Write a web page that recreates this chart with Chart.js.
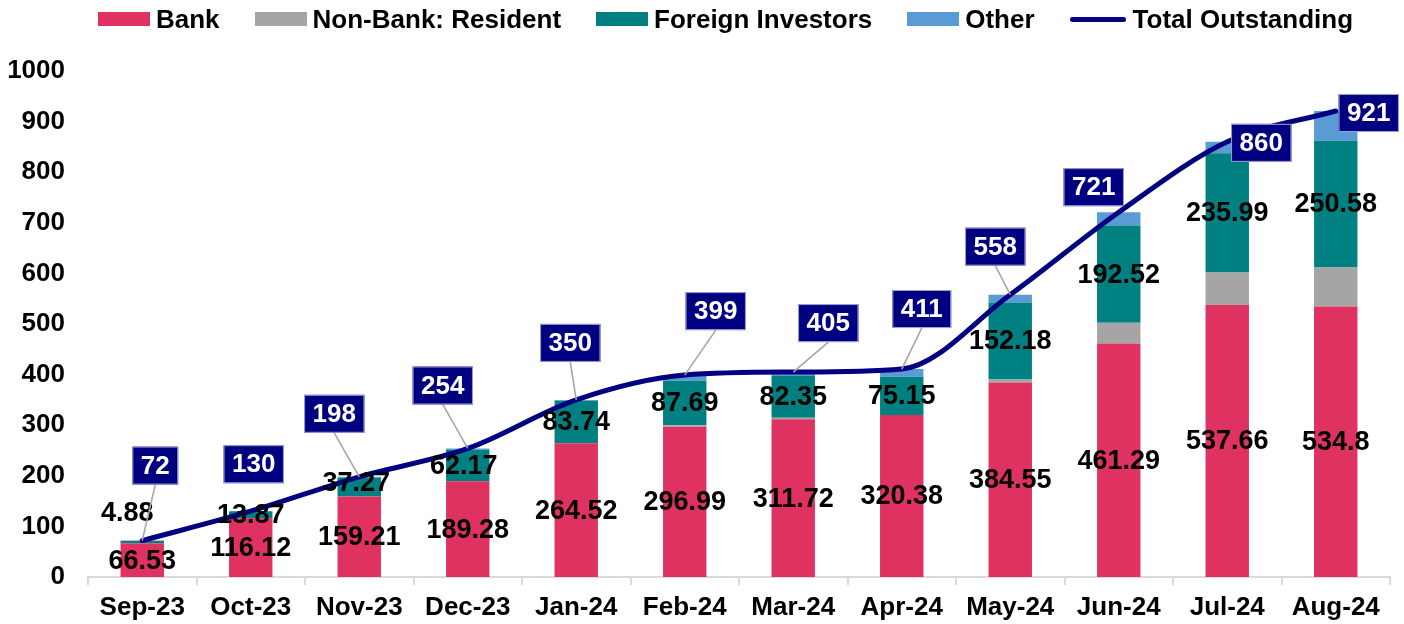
<!DOCTYPE html>
<html>
<head>
<meta charset="utf-8">
<script src="https://cdn.jsdelivr.net/npm/chart.js@4.4.1/dist/chart.umd.min.js"></script>
<style>
  html, body { margin: 0; padding: 0; background: #fff; }
  #wrap { position: relative; width: 1404px; height: 624px; }
  #legend { position: absolute; top: 5px; left: 98px; display: flex; align-items: center;
            font: bold 26px "Liberation Sans", Arial, sans-serif; color: #000; line-height: 28px; }
  #legend .item { display: flex; align-items: center; margin-right: 35px; white-space: nowrap; }
  #legend .sw { display: inline-block; width: 52px; height: 14px; margin-right: 6px; }
  #legend .ln { display: inline-block; width: 56px; height: 5px; border-radius: 3px; margin-right: 7px; }
</style>
</head>
<body>
<div id="wrap">
  <canvas id="c" width="1404" height="624"></canvas>
  <div id="legend"></div>
</div>
<script>
// ---- Data ----
const categories = ['Sep-23','Oct-23','Nov-23','Dec-23','Jan-24','Feb-24','Mar-24','Apr-24','May-24','Jun-24','Jul-24','Aug-24'];
const bank = [66.53, 116.12, 159.21, 189.28, 264.52, 296.99, 311.72, 320.38, 384.55, 461.29, 537.66, 534.8];
const nonBankResident = [0, 0, 0, 0, 0, 3, 3, 0, 6, 41, 64, 77];
const foreignInvestors = [4.88, 13.87, 37.27, 62.17, 83.74, 87.69, 82.35, 75.15, 152.18, 192.52, 235.99, 250.58];
const other = [0.59, 0.01, 1.52, 2.55, 1.74, 11.32, 7.93, 15.47, 15.27, 26.19, 22.35, 58.62];
const totalOutstanding = [72, 130, 198, 254, 350, 399, 405, 411, 558, 721, 860, 921];
const yTickMin = 0, yTickMax = 1000, yTickStep = 100;

// ---- Label placement (pixel offsets, styling only) ----
const calloutOffsets = [[13,-75],[3,-47],[-25,-63],[-25,-63],[-6,-57],[31,-64],[35,-49],[20,-60],[-15,-48],[-25,-25],[34,1],[33,2]];
const foreignLabelShift = [[-15,-30],[0,0],[-3,-4],[-4,0],[0,0],[0,0],[0,0],[0,0],[0,0],[0,0],[0,0],[0,0]];

const COLORS = { bank:'#DF3261', nonbank:'#A5A5A5', foreign:'#008080', other:'#5B9BD5', total:'#000080' };
const FONT = '"Liberation Sans", Arial, sans-serif';

const labelPlugin = {
  id: 'customLabels',
  afterDatasetsDraw(chart) {
    const ctx = chart.ctx;
    ctx.save();
    ctx.font = 'bold 27px ' + FONT;
    ctx.fillStyle = '#000';
    ctx.textAlign = 'center';
    ctx.textBaseline = 'middle';
    [1, 3].forEach(di => {
      const meta = chart.getDatasetMeta(di);
      const ds = chart.data.datasets[di];
      meta.data.forEach((el, i) => {
        const sh = di === 3 ? foreignLabelShift[i] : [0, 0];
        ctx.fillText(String(ds.data[i]), el.x + sh[0], (el.y + el.base) / 2 + sh[1] + 1);
      });
    });
    // callouts for totals
    const lm = chart.getDatasetMeta(0);
    const lds = chart.data.datasets[0];
    ctx.font = 'bold 26px ' + FONT;
    lm.data.forEach((pt, i) => {
      const [dx, dy] = calloutOffsets[i];
      const cx = pt.x + dx, cy = pt.y + dy;
      const txt = String(lds.data[i]);
      const w = ctx.measureText(txt).width + 17, h = 38;
      const bx = cx - w / 2, by = cy - h / 2;
      const dist = Math.hypot(pt.x - cx, pt.y - (by + h));
      if (dist > 30 && dy < -30) {
        ctx.beginPath();
        ctx.strokeStyle = '#A6A6A6';
        ctx.lineWidth = 1.6;
        ctx.moveTo(cx, by + h);
        ctx.lineTo(pt.x, pt.y);
        ctx.stroke();
      }
      ctx.fillStyle = COLORS.total;
      ctx.fillRect(bx, by, w, h);
      ctx.strokeStyle = '#9FA3D6';
      ctx.lineWidth = 1;
      ctx.strokeRect(bx + 0.5, by + 0.5, w - 1, h - 1);
      ctx.fillStyle = '#fff';
      ctx.fillText(txt, cx, cy + 1);
    });
    ctx.restore();
  }
};

const datasets = [
  { type:'line', label:'Total Outstanding', data: totalOutstanding, borderColor: COLORS.total, backgroundColor: COLORS.total,
    borderWidth: 5, pointRadius: 0, cubicInterpolationMode: 'monotone', order: 0, stack: 'total', borderCapStyle: 'round' },
  { type:'bar', label:'Bank', data: bank, backgroundColor: COLORS.bank, order: 1, stack: 's' },
  { type:'bar', label:'Non-Bank: Resident', data: nonBankResident, backgroundColor: COLORS.nonbank, order: 1, stack: 's' },
  { type:'bar', label:'Foreign Investors', data: foreignInvestors, backgroundColor: COLORS.foreign, order: 1, stack: 's' },
  { type:'bar', label:'Other', data: other, backgroundColor: COLORS.other, order: 1, stack: 's' }
];

// HTML legend built from dataset labels
const legendOrder = [1, 2, 3, 4, 0];
const legendEl = document.getElementById('legend');
legendOrder.forEach(i => {
  const d = datasets[i];
  const item = document.createElement('span');
  item.className = 'item';
  const sw = document.createElement('span');
  sw.className = d.type === 'line' ? 'ln' : 'sw';
  sw.style.background = d.type === 'line' ? d.borderColor : d.backgroundColor;
  item.appendChild(sw);
  item.appendChild(document.createTextNode(d.label));
  legendEl.appendChild(item);
});

new Chart(document.getElementById('c'), {
  data: { labels: categories, datasets },
  options: {
    responsive: false,
    animation: false,
    layout: { padding: { top: 71, right: 14, left: 0, bottom: 0 } },
    plugins: { legend: { display: false }, tooltip: { enabled: false } },
    datasets: { bar: { barPercentage: 0.4, categoryPercentage: 1.0 } },
    scales: {
      x: {
        stacked: true,
        grid: { display: true, drawOnChartArea: false, drawTicks: true, tickLength: 8, color: '#D9D9D9', lineWidth: 2, offset: true },
        border: { display: true, color: '#D9D9D9', width: 2 },
        ticks: { font: { family: FONT, size: 26, weight: 'bold' }, color: '#000', padding: 7, maxRotation: 0, autoSkip: false },
        afterFit(scale) { scale.height = 47; }
      },
      y: {
        stacked: true,
        min: yTickMin, max: yTickMax,
        grid: { display: false, drawTicks: false },
        border: { display: false },
        ticks: { stepSize: yTickStep, font: { family: FONT, size: 26, weight: 'bold' }, color: '#000', padding: 23,
                 callback: v => String(v) },
        afterFit(scale) { scale.width = 88; }
      }
    }
  },
  plugins: [labelPlugin]
});
</script>
</body>
</html>
